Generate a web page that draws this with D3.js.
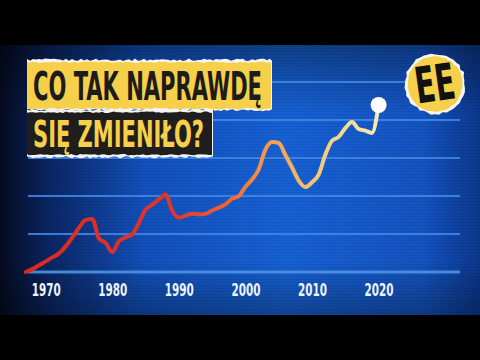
<!DOCTYPE html>
<html>
<head>
<meta charset="utf-8">
<script src="https://d3js.org/d3.v7.min.js"></script>
<style>
    body { margin: 0; background: #000; }
    svg { display: block; }
</style>
</head>
<body>
<div id="chart"></div>
<script>
    // Data (index, arbitrary units 0-100)
    const years = [1967, 1968, 1969, 1970, 1971, 1972, 1973, 1974, 1975, 1976,
                   1977, 1978, 1979, 1980, 1981, 1982, 1983, 1984, 1985, 1986,
                   1987, 1988, 1989, 1990, 1991, 1992, 1993, 1994, 1995, 1996,
                   1997, 1998, 1999, 2000, 2001, 2002, 2003, 2004, 2005, 2006,
                   2007, 2008, 2009, 2010, 2011, 2012, 2013, 2014, 2015, 2016,
                   2017, 2018, 2019, 2020];
    const values = [0, 1.5, 3.5, 5.6, 7.7, 9.8, 13.5, 18.1, 23.3, 27.4,
                    27.9, 17.6, 15.3, 10.5, 16.2, 18.3, 19.8, 25.8, 32.8, 35.4,
                    38.2, 40.8, 32.3, 28.5, 29.7, 30.7, 30.3, 30.6, 32.4, 33.9,
                    35.6, 38.6, 39.9, 44.9, 48.7, 54.1, 64.4, 68.4, 67.9, 61.6,
                    55.0, 48.1, 44.7, 47.2, 51.3, 61.7, 69.1, 71.1, 75.7, 79.0,
                    75.3, 74.4, 73.2, 87.9];
    const gridValues = [0, 20, 40, 60, 80, 100];
    const tickYears = [1970, 1980, 1990, 2000, 2010, 2020];
    const titleLines = ["CO TAK NAPRAWDĘ", "SIĘ ZMIENIŁO?"];
    const badgeText = "EE";

    const width = 480, height = 360;
    const bandTop = 45, bandBottom = 315;
    const yellow = "#f6d04a";

    const svg = d3.select("#chart")
        .append("svg")
        .attr("width", width)
        .attr("height", height);
    const defs = svg.append("defs");

    // background gradients
    const bgH = defs.append("linearGradient").attr("id", "bgH");
    [[0, "#050b20"], [0.1, "#0a2562"], [0.3, "#1250bb"], [0.6, "#1661d4"],
     [0.88, "#1453c0"], [1, "#0c378c"]].forEach(s =>
        bgH.append("stop").attr("offset", s[0]).attr("stop-color", s[1]));
    const bgV = defs.append("linearGradient").attr("id", "bgV")
        .attr("x1", 0).attr("x2", 0).attr("y1", 0).attr("y2", 1);
    [[0, 0.35], [0.25, 0], [0.8, 0], [1, 0.3]].forEach(s =>
        bgV.append("stop").attr("offset", s[0])
            .attr("stop-color", "#000").attr("stop-opacity", s[1]));
    const scan = defs.append("pattern").attr("id", "scan")
        .attr("width", 4).attr("height", 3).attr("patternUnits", "userSpaceOnUse");
    scan.append("rect").attr("width", 4).attr("height", 1)
        .attr("fill", "#000").attr("opacity", 0.07);

    svg.append("rect").attr("y", bandTop).attr("width", width)
        .attr("height", bandBottom - bandTop).attr("fill", "url(#bgH)");
    svg.append("rect").attr("y", bandTop).attr("width", width)
        .attr("height", bandBottom - bandTop).attr("fill", "url(#bgV)");
    svg.append("rect").attr("y", bandTop).attr("width", width)
        .attr("height", bandBottom - bandTop).attr("fill", "url(#scan)");

    // scales
    const x = d3.scaleLinear().domain([1970, 2020]).range([45.7, 378.6]);
    const y = d3.scaleLinear().domain([0, 100]).range([272, 82]);

    // grid lines
    svg.append("g").selectAll("line")
        .data(gridValues)
        .join("line")
        .attr("x1", 28).attr("x2", 460)
        .attr("y1", d => y(d)).attr("y2", d => y(d))
        .attr("stroke", d => d === 0 ? "#4d93e6" : "#3f86e4")
        .attr("stroke-width", d => d === 0 ? 3 : 2)
        .attr("opacity", 0.9);

    // x axis labels
    const xAxis = svg.append("g")
        .attr("transform", "translate(0,280)")
        .call(d3.axisBottom(x).tickValues(tickYears).tickFormat(d3.format("d")).tickSize(0));
    xAxis.select(".domain").remove();
    xAxis.selectAll("text")
        .attr("dy", "0.71em")
        .attr("fill", "#eef3ff")
        .attr("font-family", "'Liberation Sans Narrow', 'DejaVu Sans Condensed', sans-serif")
        .attr("font-weight", "bold")
        .attr("font-size", 18.5)
        .attr("textLength", 29)
        .attr("lengthAdjust", "spacingAndGlyphs");

    // line, red to pale yellow
    const lineGrad = defs.append("linearGradient").attr("id", "lineGrad")
        .attr("gradientUnits", "userSpaceOnUse")
        .attr("x1", x(years[0])).attr("x2", x(years[years.length - 1]))
        .attr("y1", 0).attr("y2", 0);
    [[0, "#dd2820"], [0.42, "#e3352a"], [0.58, "#ee6635"], [0.68, "#f4974c"],
     [0.78, "#f6b765"], [0.87, "#f4d585"], [1, "#f6ebb2"]].forEach(s =>
        lineGrad.append("stop").attr("offset", s[0]).attr("stop-color", s[1]));

    const line = d3.line()
        .x((d, i) => x(years[i]))
        .y(d => y(d))
        .curve(d3.curveMonotoneX);

    svg.append("path")
        .datum(values)
        .attr("d", line)
        .attr("fill", "none")
        .attr("stroke", "url(#lineGrad)")
        .attr("stroke-width", 4)
        .attr("stroke-linejoin", "round")
        .attr("stroke-linecap", "round");

    const last = values.length - 1;
    svg.append("circle")
        .attr("cx", x(years[last])).attr("cy", y(values[last]))
        .attr("r", 8)
        .attr("fill", "#ffffff");

    // torn paper helpers (deterministic jitter for the ragged edges)
    function jit(i, seed) {
        const s = Math.sin(i * 127.1 + seed * 311.7) * 43758.5453;
        return s - Math.floor(s);
    }
    function tornPath(x0, x1, y0, y1, amp, seed) {
        const pts = [];
        for (let xx = x0, i = 0; xx <= x1; xx += 3, i++)
            pts.push([xx, y0 - jit(i, seed) * amp]);
        pts.push([x1, y0]);
        pts.push([x1, y1]);
        for (let xx = x1, i = 0; xx >= x0; xx -= 3, i++)
            pts.push([xx, y1 + jit(i, seed + 7) * amp]);
        pts.push([x0, y1]);
        return "M" + pts.map(p => p.join(",")).join("L") + "Z";
    }

    const title = svg.append("g");
    title.append("path").attr("d", tornPath(27, 272, 61, 109, 2.5, 1)).attr("fill", "#f4f4f4");
    title.append("path").attr("d", tornPath(27, 271, 63, 108, 1.5, 3)).attr("fill", yellow);
    title.append("path").attr("d", tornPath(27, 213, 111, 156, 2.5, 5)).attr("fill", "#f4f4f4");
    title.append("path").attr("d", tornPath(27, 212, 113, 154, 1.5, 9)).attr("fill", "#1f1e1c");

    const titleFont = "'Liberation Sans Narrow', 'DejaVu Sans Condensed', sans-serif";
    title.append("text")
        .attr("x", 33).attr("y", 100)
        .attr("font-family", titleFont).attr("font-weight", "bold")
        .attr("font-size", 39)
        .attr("textLength", 229).attr("lengthAdjust", "spacingAndGlyphs")
        .attr("fill", "#1d1c1a")
        .text(titleLines[0]);
    title.append("text")
        .attr("x", 33).attr("y", 147)
        .attr("font-family", titleFont).attr("font-weight", "bold")
        .attr("font-size", 38)
        .attr("textLength", 171).attr("lengthAdjust", "spacingAndGlyphs")
        .attr("fill", yellow)
        .text(titleLines[1]);

    // EE badge
    const badge = svg.append("g").attr("transform", "translate(435,84)");
    const blob = (r, amp, seed) => d3.range(0, 48).map(i => {
        const a = i / 48 * 2 * Math.PI;
        const rr = r + jit(i, seed) * amp;
        return [Math.cos(a) * rr, Math.sin(a) * rr];
    });
    badge.append("path").attr("d", d3.line()(blob(29, 2.5, 2)) + "Z").attr("fill", "#f4f4f4");
    badge.append("path").attr("d", d3.line()(blob(27, 1.2, 4)) + "Z").attr("fill", yellow);
    badge.append("text")
        .attr("transform", "rotate(-8)")
        .attr("x", 0).attr("y", 17)
        .attr("text-anchor", "middle")
        .attr("font-family", titleFont).attr("font-weight", "bold")
        .attr("font-size", 50)
        .attr("textLength", 40).attr("lengthAdjust", "spacingAndGlyphs")
        .attr("fill", "#111")
        .text(badgeText);
</script>
</body>
</html>
